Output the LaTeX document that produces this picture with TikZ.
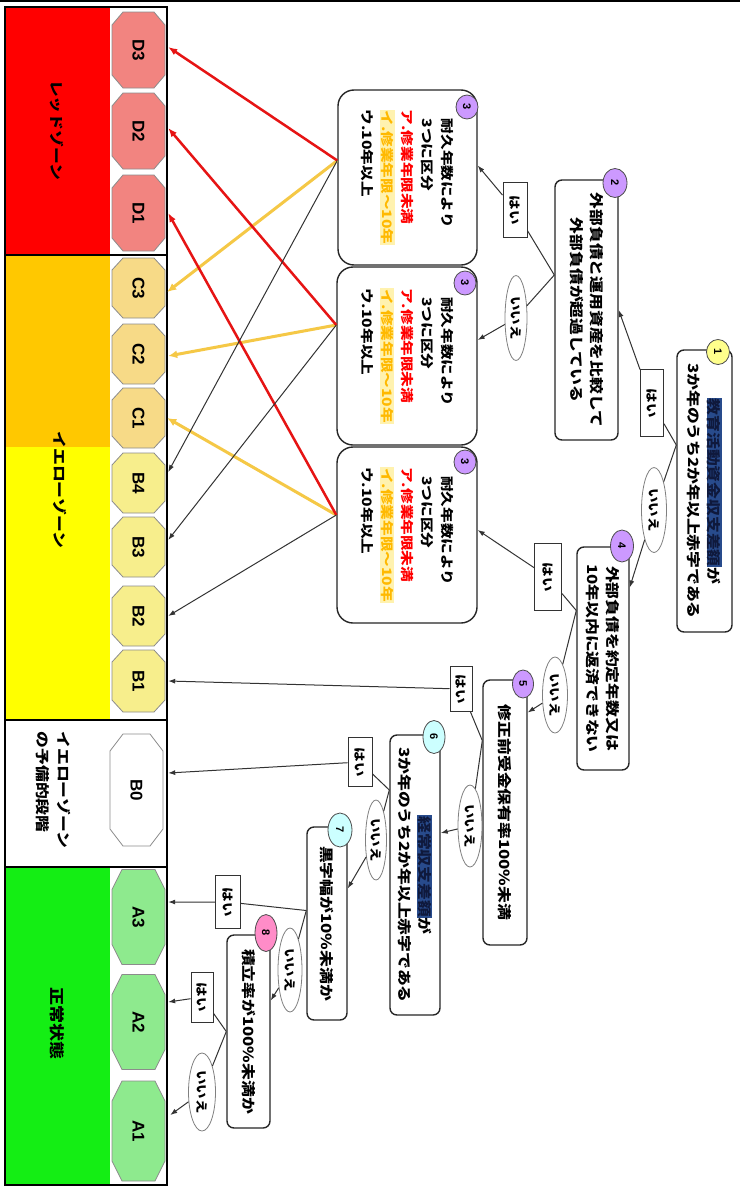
\documentclass[tikz,border=0pt]{standalone}
\usepackage{fontspec}
\newfontfamily\jp[FakeStretch=1.2]{Noto Sans CJK JP}
\newfontfamily\lab{Liberation Sans}
\usetikzlibrary{shapes.geometric,arrows.meta}
\definecolor{zred}{RGB}{255,0,0}
\definecolor{zorange}{RGB}{255,200,0}
\definecolor{zyellow}{RGB}{255,255,0}
\definecolor{zgreen}{RGB}{20,238,20}
\definecolor{octD}{RGB}{242,132,128}
\definecolor{octC}{RGB}{247,218,135}
\definecolor{octB}{RGB}{247,238,140}
\definecolor{octA}{RGB}{142,234,142}
\definecolor{octline}{RGB}{140,140,140}
\definecolor{bpurple}{RGB}{204,153,255}
\definecolor{bcyan}{RGB}{204,255,255}
\definecolor{bpink}{RGB}{255,140,200}
\definecolor{byellow}{RGB}{255,255,140}
\definecolor{hlbg}{RGB}{40,75,140}
\definecolor{hlfg}{RGB}{15,25,60}
\definecolor{lred}{RGB}{230,20,20}
\definecolor{lyel}{RGB}{245,200,70}
\definecolor{tgold}{RGB}{255,185,0}
\definecolor{tglow}{RGB}{255,242,175}
\newcommand\boxfont{\jp\bfseries\fontsize{14}{20}\selectfont}
\newcommand\threefont{\jp\bfseries\fontsize{13}{20}\selectfont}
\newcommand\hlt[1]{{\setlength{\fboxsep}{0.8pt}\colorbox{hlbg}{\textcolor{hlfg}{#1}}}}
\newcommand\glow[1]{{\setlength{\fboxsep}{0.8pt}\colorbox{tglow}{\textcolor{tgold}{#1}}}}
\tikzset{
  octlab/.style={rotate=-90, minimum height=53, inner sep=0, font=\lab\bfseries\fontsize{17}{17}\selectfont},
  qbox/.style={rectangle, draw=black!85, line width=1.4, rounded corners=7, fill=white, rotate=-90, inner sep=2, align=center, font=\boxfont},
  tbox/.style={qbox, rounded corners=16, align=left, font=\threefont},
  badge/.style={ellipse, draw=black!70, line width=0.8, rotate=-90, inner sep=0, font=\lab\bfseries\fontsize{11}{11}\selectfont},
  yesl/.style={rectangle, draw=black!80, line width=1, fill=white, rotate=-90, inner sep=0, font=\jp\bfseries\fontsize{12}{12}\selectfont},
  nol/.style={ellipse, draw=black!50, line width=0.8, fill=white, rotate=-90, inner sep=0, font=\jp\bfseries\fontsize{12}{12}\selectfont},
  zlab/.style={rotate=-90, inner sep=0, font=\jp\bfseries\fontsize{14}{21}\selectfont},
  conn/.style={draw=black!80, line width=1, -{Latex[length=7pt,width=5pt]}},
  redl/.style={draw=lred, line width=2.5, -{Latex[length=9pt,width=7pt]}},
  yell/.style={draw=lyel, line width=3, -{Latex[length=9pt,width=8pt]}}
}
\newcommand\octa[8]{%
  \filldraw[fill=#5, draw=octline, line width=0.8]
    (#2-26.5,#3-#4/2+#7) -- (#2-26.5+#6,#3-#4/2) -- (#2+26.5-#6,#3-#4/2) -- (#2+26.5,#3-#4/2+#7)
    -- (#2+26.5,#3+#4/2-#7) -- (#2+26.5-#6,#3+#4/2) -- (#2-26.5+#6,#3+#4/2) -- (#2-26.5,#3+#4/2-#7) -- cycle;
  \node[octlab, minimum width=#4] (#1) at (#2,#3) {#8};}
\newcommand\threetext{\hspace*{9pt}耐久年数により\\\hspace*{9pt}3つに区分\\\textcolor{red}{ア.修業年限未満}\\\glow{イ.修業年限～10年}\\ウ.10年以上}
\begin{document}
\begin{tikzpicture}[x=1pt,y=-1pt]
\useasboundingbox (0,0) rectangle (740,1191);
\fill[white] (0,0) rectangle (740,1191);
\draw[line width=2] (0,1.2) -- (740,1.2);
% zones
\fill[zred] (5,7) rectangle (110,255);
\fill[zorange] (5,255) rectangle (110,447);
\fill[zyellow] (5,447) rectangle (110,720);
\fill[zgreen] (5,867) rectangle (110,1185);
\draw[line width=2.5] (5,7) rectangle (167,1185);
\draw[line width=2.5] (5,255) -- (167,255);
\draw[line width=2.5] (5,720) -- (167,720);
\draw[line width=2.5] (5,867) -- (167,867);
\node[zlab] (Z1) at (57,130) {レッドゾーン};
\node[zlab] (Z2) at (60,490) {イエローゾーン};
\node[zlab, align=left] (Z3) at (53,790) {イエローゾーン\\の予備的段階};
\node[zlab, font=\jp\bfseries\fontsize{15}{15}\selectfont] (Z4) at (57,1023) {正常状態};
% octagons
\octa{D3}{138.5}{50}{76}{octD}{11}{13}{D3}
\octa{D2}{138.5}{131}{76}{octD}{11}{13}{D2}
\octa{D1}{138.5}{213}{76}{octD}{11}{13}{D1}
\octa{C3}{138.5}{288}{60}{octC}{11}{12}{C3}
\octa{C2}{138.5}{354}{60}{octC}{11}{12}{C2}
\octa{C1}{138.5}{418}{60}{octC}{11}{12}{C1}
\octa{B4}{138.5}{483}{60}{octB}{11}{12}{B4}
\octa{B3}{138.5}{547}{60}{octB}{11}{12}{B3}
\octa{B2}{138.5}{616}{60}{octB}{11}{12}{B2}
\octa{B1}{138.5}{681}{62}{octB}{11}{12}{B1}
\octa{B0}{136.5}{790}{112}{white}{13}{17}{B0}
\octa{A3}{138.5}{917}{95}{octA}{10}{20}{A3}
\octa{A2}{138.5}{1022}{95}{octA}{10}{20}{A2}
\octa{A1}{138.5}{1131}{100}{octA}{10}{20}{A1}
% question boxes
\node[qbox, minimum width=282, minimum height=55] (b1) at (704.5,491) {\hlt{教育活動資金収支差額}が\\3か年のうち2か年以上赤字である};
\node[qbox, minimum width=260, minimum height=63] (b2) at (586.5,310) {外部負債と運用資産を比較して\\外部負債が超過している};
\node[tbox, minimum width=175, minimum height=139] (b3a) at (407.5,177.5) {\threetext};
\node[tbox, minimum width=178, minimum height=140] (b3b) at (407,356) {\threetext};
\node[tbox, minimum width=176, minimum height=140] (b3c) at (407,535) {\threetext};
\node[qbox, minimum width=223, minimum height=52] (b4) at (603,658.5) {外部負債を約定年数又は\\10年以内に返済できない};
\node[qbox, minimum width=265, minimum height=44] (b5) at (505,812.5) {修正前受金保有率100\%未満};
\node[qbox, minimum width=280, minimum height=50] (b6) at (415,875) {\hlt{経常収支差額}が\\3か年のうち2か年以上赤字である};
\node[qbox, minimum width=193, minimum height=40] (b7) at (327,923.5) {黒字幅が10\%未満か};
\node[qbox, minimum width=193, minimum height=43] (b8) at (248.5,1031.5) {積立率が100\%未満か};
% badges
\node[badge, fill=byellow, minimum width=25, minimum height=23] (g1) at (718,352) {1};
\node[badge, fill=bpurple, minimum width=29, minimum height=24] (g2) at (615,183) {2};
\node[badge, fill=bpurple, minimum width=24, minimum height=22] (g3a) at (467,107) {3};
\node[badge, fill=bpurple, minimum width=24, minimum height=22] (g3b) at (465,283) {3};
\node[badge, fill=bpurple, minimum width=24, minimum height=22] (g3c) at (465,462) {3};
\node[badge, fill=bpurple, minimum width=32, minimum height=23] (g4) at (622,546) {4};
\node[badge, fill=bpurple, minimum width=28, minimum height=21] (g5) at (523,684) {5};
\node[badge, fill=bcyan, minimum width=33, minimum height=22] (g6) at (434,737) {6};
\node[badge, fill=bcyan, minimum width=34, minimum height=24] (g7) at (340,830) {7};
\node[badge, fill=bpink, minimum width=37, minimum height=22] (g8) at (266,933) {8};
% yes / no labels
\node[yesl, minimum width=67, minimum height=23] (Y1) at (652,403) {はい};
\node[nol, minimum width=85, minimum height=25] (N1) at (654,510) {いいえ};
\node[yesl, minimum width=55, minimum height=24] (Y2) at (515,210) {はい};
\node[nol, minimum width=85, minimum height=22] (N2) at (516,318) {いいえ};
\node[yesl, minimum width=67, minimum height=27] (Y4) at (548,577) {はい};
\node[nol, minimum width=76, minimum height=25] (N4) at (555,695) {いいえ};
\node[yesl, minimum width=45, minimum height=22] (Y5) at (461,689) {はい};
\node[nol, minimum width=82, minimum height=24] (N5) at (470,826) {いいえ};
\node[yesl, minimum width=49, minimum height=24] (Y6) at (360,762) {はい};
\node[nol, minimum width=80, minimum height=21] (N6) at (376,840) {いいえ};
\node[yesl, minimum width=53, minimum height=25] (Y7) at (228,902) {はい};
\node[nol, minimum width=84, minimum height=24] (N7) at (290,970) {いいえ};
\node[yesl, minimum width=50, minimum height=22] (Y8) at (202,997) {はい};
\node[nol, minimum width=78, minimum height=27] (N8) at (202,1092) {いいえ};
% exit points
\coordinate (P1) at ([yshift=46pt]b1.south);
\coordinate (P2) at ([yshift=35pt]b2.south);
\coordinate (P4) at ([yshift=48pt]b4.south);
\coordinate (P5) at ([yshift=72pt]b5.south);
\coordinate (P6) at ([yshift=85pt]b6.south);
\coordinate (P7) at ([yshift=13pt]b7.south);
\coordinate (P8) at (b8.south);
\coordinate (Q3a) at ([yshift=17pt]b3a.south);
\coordinate (Q3b) at ([yshift=31pt]b3b.south);
\coordinate (Q3c) at ([yshift=20pt]b3c.south);
% flow connectors
\draw[conn] (P1) -- (Y1) -- (b2.north);
\draw[conn] (P1) -- (N1) -- ([yshift=71pt]b4.north);
\draw[conn] (P2) -- (Y2) -- ([yshift=12pt]b3a.north);
\draw[conn] (P2) -- (N2) -- ([yshift=16pt]b3b.north);
\draw[conn] (P4) -- (Y4) -- ([yshift=5pt]b3c.north);
\draw[conn] (P4) -- (N4) -- ([yshift=100pt]b5.north);
\draw[conn] (P5) -- (Y5) -- ([xshift=3pt]B1.north);
\draw[conn] (P5) -- (N5) -- ([yshift=42pt]b6.north);
\draw[conn] (P6) -- (Y6) -- ([xshift=5pt,yshift=17pt]B0.north);
\draw[conn] (P6) -- (N6) -- ([yshift=35pt]b7.north);
\draw[conn] (P7) -- (Y7) -- ([xshift=3pt,yshift=15pt]A3.north);
\draw[conn] (P7) -- (N7) -- ([yshift=31pt]b8.north);
\draw[conn] (P8) -- (Y8) -- ([xshift=3pt,yshift=20pt]A2.north);
\draw[conn] (P8) -- (N8) -- ([xshift=5pt,yshift=16pt]A1.north);
% fan lines
\draw[yell] (Q3a) -- ([xshift=2pt,yshift=-4pt]C3.north);
\draw[yell] (Q3b) -- ([xshift=3pt,yshift=-2pt]C2.north);
\draw[yell] (Q3c) -- ([xshift=2pt]C1.north);
\draw[redl] (Q3a) -- ([xshift=3pt,yshift=3pt]D3.north);
\draw[redl] (Q3b) -- ([xshift=3pt,yshift=3pt]D2.north);
\draw[redl] (Q3c) -- ([xshift=3pt]D1.north);
\draw[conn] (Q3a) -- ([xshift=3pt,yshift=11pt]B4.north);
\draw[conn] (Q3b) -- ([xshift=3pt,yshift=7pt]B3.north);
\draw[conn] (Q3c) -- ([xshift=3pt]B2.north);
\end{tikzpicture}
\end{document}
